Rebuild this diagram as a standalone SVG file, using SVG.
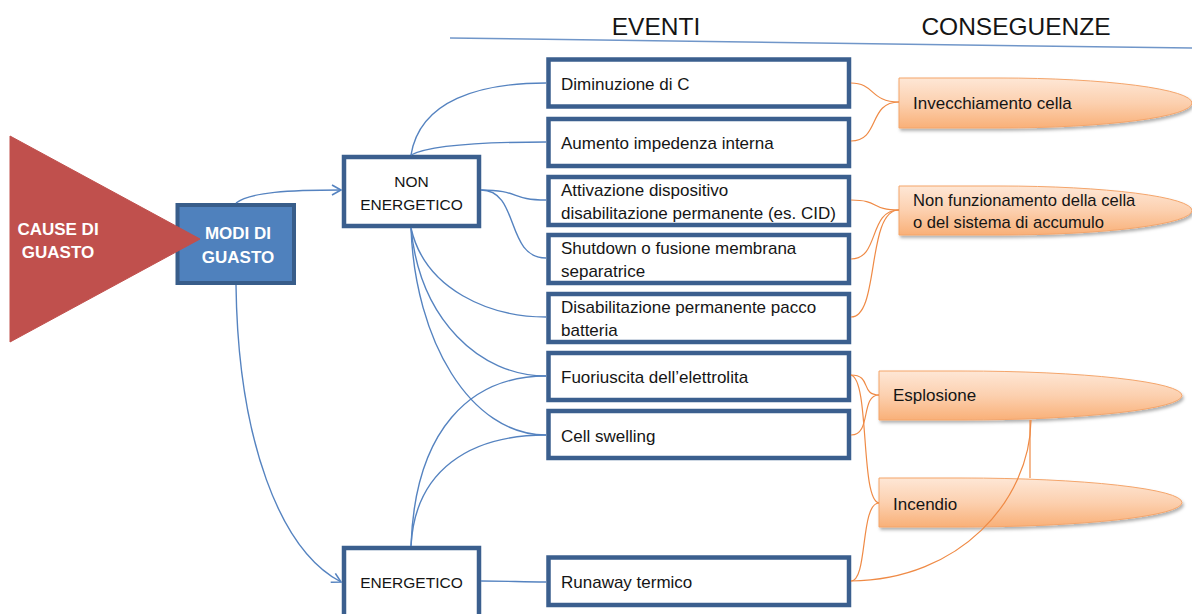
<svg xmlns="http://www.w3.org/2000/svg" width="1192" height="614" viewBox="0 0 1192 614">
<defs>
<style>
.t{font-family:"Liberation Sans",Arial,sans-serif;fill:#151515}
.ev{font-size:17px}
.hd{font-size:24.5px;text-anchor:middle}
.md{font-size:15.5px;text-anchor:middle}
.wb{font-family:"Liberation Sans",Arial,sans-serif;font-weight:bold;font-size:17px;fill:#ffffff;text-anchor:middle}
.box{fill:#ffffff;stroke:#3b5f8e;stroke-width:4.5}
.mode{fill:#ffffff;stroke:#3b5f8e;stroke-width:4.5}
.bl{fill:none;stroke:#5583c0;stroke-width:1.4}
.or{fill:none;stroke:#ef8a45;stroke-width:1.2}
.bul{fill:url(#og);stroke:#f4a56b;stroke-width:1;filter:url(#sh)}
</style>
<linearGradient id="og" x1="0" y1="0" x2="0" y2="1">
<stop offset="0" stop-color="#fee7d6"/>
<stop offset="0.5" stop-color="#fcd0af"/>
<stop offset="1" stop-color="#f9b078"/>
</linearGradient>
<filter id="sh" x="-10%" y="-20%" width="120%" height="160%">
<feDropShadow dx="1.5" dy="2.5" stdDeviation="1.5" flood-color="#000" flood-opacity="0.3"/>
</filter>
<marker id="ar" markerWidth="12" markerHeight="12" refX="10" refY="6" orient="auto" markerUnits="userSpaceOnUse">
<path d="M1,1 L10,6 L1,11" fill="none" stroke="#5583c0" stroke-width="1.6"/>
</marker>
</defs>

<g id="headers">
<text class="t hd" x="656" y="35">EVENTI</text>
<text class="t hd" x="1016" y="35">CONSEGUENZE</text>
<line x1="450" y1="38" x2="1192" y2="48" stroke="#7096c9" stroke-width="1.5"/>
</g>

<g id="modi">
<rect x="177.5" y="205" width="116.5" height="78" fill="#4f81bd" stroke="#385d8a" stroke-width="4"/>
<text class="wb" x="238" y="239">MODI DI</text>
<text class="wb" x="238" y="263">GUASTO</text>
</g>

<g id="cause">
<path d="M10,136 L200,239 L10,342 Z" fill="#c0504d" stroke="#c0504d" stroke-width="1" stroke-linejoin="round"/>
<text class="wb" x="58" y="235">CAUSE DI</text>
<text class="wb" x="58" y="258">GUASTO</text>
</g>

<g id="non-energetico">
<rect class="mode" x="344" y="157" width="135" height="69"/>
<text class="t md" x="411.5" y="187">NON</text>
<text class="t md" x="411.5" y="210">ENERGETICO</text>
</g>

<g id="energetico">
<rect class="mode" x="344" y="548" width="135" height="75"/>
<text class="t md" x="411.5" y="588">ENERGETICO</text>
</g>

<g id="ev1"><rect class="box" x="548.5" y="59.5" width="300.5" height="47"/><text class="t ev" x="561" y="90">Diminuzione di C</text></g>
<g id="ev2"><rect class="box" x="548.5" y="119" width="300.5" height="47"/><text class="t ev" x="561" y="149">Aumento impedenza interna</text></g>
<g id="ev3"><rect class="box" x="548.5" y="177" width="300.5" height="48"/><text class="t ev" x="561" y="196">Attivazione dispositivo</text><text class="t ev" x="561" y="219">disabilitazione permanente (es. CID)</text></g>
<g id="ev4"><rect class="box" x="548.5" y="235" width="300.5" height="48"/><text class="t ev" x="561" y="254">Shutdown o fusione membrana</text><text class="t ev" x="561" y="277">separatrice</text></g>
<g id="ev5"><rect class="box" x="548.5" y="294" width="300.5" height="48"/><text class="t ev" x="561" y="313">Disabilitazione permanente pacco</text><text class="t ev" x="561" y="336">batteria</text></g>
<g id="ev6"><rect class="box" x="548.5" y="353" width="300.5" height="47"/><text class="t ev" x="561" y="383">Fuoriuscita dell’elettrolita</text></g>
<g id="ev7"><rect class="box" x="548.5" y="411" width="300.5" height="47"/><text class="t ev" x="561" y="442">Cell swelling</text></g>
<g id="ev8"><rect class="box" x="548.5" y="557.5" width="300.5" height="47.5"/><text class="t ev" x="561" y="588">Runaway termico</text></g>

<g id="c-invecchiamento"><path class="bul" d="M899,78 H1000 A192,25 0 0 1 1000,128 H899 Z"/><text class="t ev" x="913" y="109">Invecchiamento cella</text></g>
<g id="c-nonfunz"><path class="bul" d="M899,186 H1000 A192,24.5 0 0 1 1000,235 H899 Z"/><text class="t" font-size="16.6" x="913" y="206">Non funzionamento della cella</text><text class="t" font-size="16.6" x="913" y="228">o del sistema di accumulo</text></g>
<g id="c-esplosione"><path class="bul" d="M879,371 H962 A220,24.5 0 0 1 962,420 H879 Z"/><text class="t ev" x="893" y="401">Esplosione</text></g>
<g id="c-incendio"><path class="bul" d="M879,478 H962 A220,24.5 0 0 1 962,527 H879 Z"/><text class="t ev" x="893" y="510">Incendio</text></g>

<g id="connectors">
<path class="bl" d="M236,203 C250,192 290,190 341,190" marker-end="url(#ar)"/>
<path class="bl" d="M236,285 C238,440 280,550 341,582" marker-end="url(#ar)"/>
<path class="bl" d="M411,155 C420,100 480,83 546,83"/>
<path class="bl" d="M411,155 C430,145 480,142 546,142"/>
<path class="bl" d="M481,190 C520,190 510,200 546,200"/>
<path class="bl" d="M481,190 C520,190 505,258 546,258"/>
<path class="bl" d="M411,228 C425,290 490,317 546,317"/>
<path class="bl" d="M411,228 C420,320 480,376 546,376"/>
<path class="bl" d="M411,228 C415,340 470,435 546,435"/>
<path class="bl" d="M411,546 C415,430 470,376 546,376"/>
<path class="bl" d="M411,546 C415,470 470,435 546,435"/>
<path class="bl" d="M481,581 C510,581 520,582 546,582"/>

<path class="or" d="M851,83 C875,83 870,102 899,102"/>
<path class="or" d="M851,141 C880,141 868,102 899,102"/>
<path class="or" d="M851,200 C880,200 870,210 899,210"/>
<path class="or" d="M851,259 C880,259 868,210 899,210"/>
<path class="or" d="M851,317 C880,317 866,210 899,210"/>
<path class="or" d="M851,375 C872,375 860,395 879,395"/>
<path class="or" d="M851,435 C872,435 860,395 879,395"/>
<path class="or" d="M851,375 C870,380 860,500 879,503"/>
<path class="or" d="M851,581 C868,581 860,503 879,503"/>
<path class="or" d="M851,581 C960,580 1030,500 1031,420"/>
<line class="or" x1="1030" y1="420" x2="1030" y2="478"/>
</g>
</svg>
